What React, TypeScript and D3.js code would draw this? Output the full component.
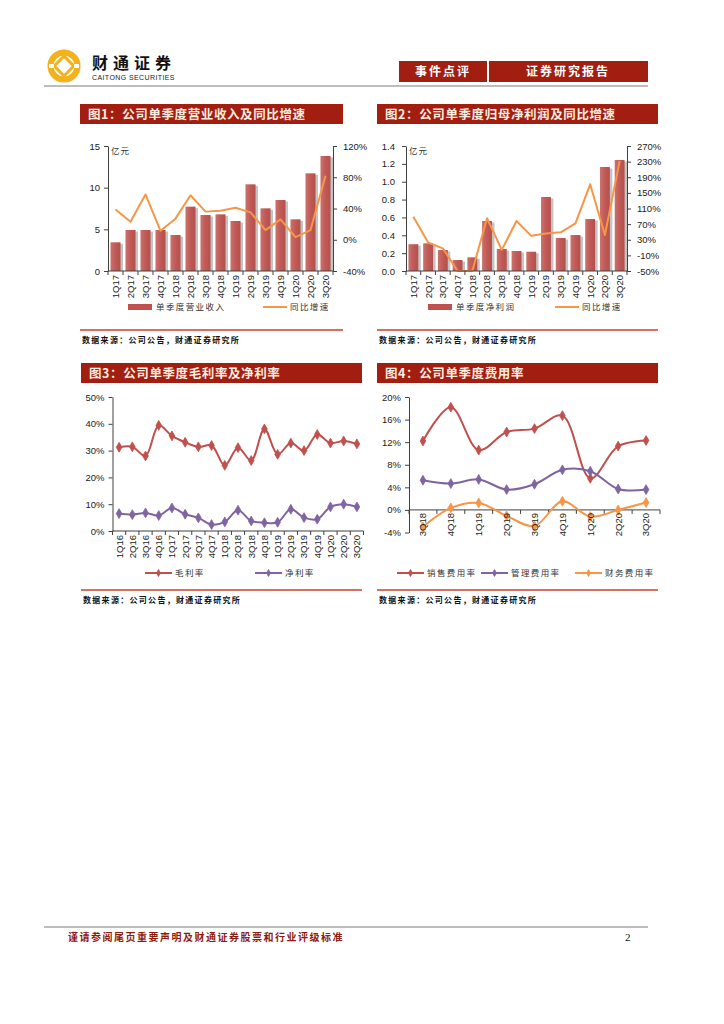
import * as d3 from "d3";
import * as React from "react";

// ---- data ----
const c1Quarters = ["1Q17", "2Q17", "3Q17", "4Q17", "1Q18", "2Q18", "3Q18", "4Q18", "1Q19", "2Q19", "3Q19", "4Q19", "1Q20", "2Q20", "3Q20"];
const c1Revenue = [3.44, 4.92, 4.92, 4.92, 4.32, 7.72, 6.72, 6.8, 6.0, 10.4, 7.52, 8.52, 6.2, 11.72, 13.8];
const c1Growth = [38.8, 23, 58, 11.5, 27, 57, 36, 37, 41, 35, 12.4, 26, 3.4, 12.4, 82];
const c1LeftTicks = [0, 5, 10, 15];
const c1RightTicks = [-40, 0, 40, 80, 120];

const c2Quarters = c1Quarters;
const c2Profit = [0.3, 0.31, 0.235, 0.123, 0.153, 0.56, 0.246, 0.224, 0.216, 0.829, 0.37, 0.403, 0.582, 1.165, 1.243];
const c2Growth = [89, 23, 8, -50, -50, 85, 4, 78, 40, 46, 49, 72, 172, 42, 232];
const c2LeftTicks = [0, 0.2, 0.4, 0.6, 0.8, 1.0, 1.2, 1.4];
const c2RightTicks = [-50, -10, 30, 70, 110, 150, 190, 230, 270];

const c3Quarters = ["1Q16", "2Q16", "3Q16", "4Q16", "1Q17", "2Q17", "3Q17", "4Q17", "1Q18", "2Q18", "3Q18", "4Q18", "1Q19", "2Q19", "3Q19", "4Q19", "1Q20", "2Q20", "3Q20"];
const c3Gross = [31.25, 31.4, 28, 39.4, 35.5, 33.1, 31.4, 31.9, 24.5, 31.1, 26.3, 38.1, 28.6, 32.8, 30, 36, 32.8, 33.6, 32.5];
const c3Net = [6.5, 6.1, 6.75, 5.75, 8.6, 6.25, 4.9, 2.4, 3.4, 7.75, 3.75, 3.1, 3.25, 8.1, 5, 4.4, 9, 10, 9];
const c3Ticks = [0, 10, 20, 30, 40, 50];

const c4Quarters = ["3Q18", "4Q18", "1Q19", "2Q19", "3Q19", "4Q19", "1Q20", "2Q20", "3Q20"];
const c4Sales = [12.2, 18.2, 10.6, 13.8, 14.4, 16.7, 5.6, 11.3, 12.3];
const c4Admin = [5.26, 4.67, 5.4, 3.6, 4.55, 7.1, 6.86, 3.7, 3.6];
const c4Finance = [-3.0, 0.35, 1.24, -1.06, -2.84, 1.54, -1.18, 0, 1.3];
const c4Ticks = [-4, 0, 4, 8, 12, 16, 20];

// ---- styles ----
const DARKRED = "#a21e10";
const BAR = "#c0504d";
const ORANGE = "#f79646";
const RED = "#c0504d";
const PURPLE = "#8064a2";
const AXIS = "#404040";
const NUM = "'Liberation Sans', Arial, sans-serif";
const CJK = "'Noto Sans CJK SC', sans-serif";

function styleAxis(g: any) {
  if (!g) return;
  const s = d3.select(g);
  s.attr("font-family", null).attr("font-size", null);
  s.select(".domain").attr("stroke", AXIS);
  s.selectAll(".tick line").attr("stroke", AXIS);
  s.selectAll(".tick text").attr("font-family", NUM).attr("font-size", 9.5).attr("fill", "#222");
}

function YAxis({ scale, ticks, x, side, fmt, pad }: any) {
  const axis = (side === "left" ? d3.axisLeft(scale) : d3.axisRight(scale))
    .tickValues(ticks).tickSize(4).tickSizeOuter(0).tickPadding(pad).tickFormat(fmt);
  return <g transform={`translate(${x},0)`} ref={(g) => { if (g) { d3.select(g).call(axis as any); styleAxis(g); } }} />;
}

function Title({ x, y, w, text }: any) {
  return (
    <g>
      <rect x={x} y={y} width={w} height={20} fill={DARKRED} />
      <text x={x + 8} y={y + 15} fill="#fbeee0" fontFamily={CJK} fontWeight="bold" fontSize={12.5} letterSpacing={0.6}>{text}</text>
    </g>
  );
}

function Source({ x, y, w }: any) {
  return (
    <g>
      <line x1={x} x2={x + w} y1={y} y2={y} stroke="#c8402f" strokeWidth={1.5} />
      <text x={x + 2} y={y + 13} fontFamily={CJK} fontWeight="bold" fontSize={8} letterSpacing={1.3} fill="#111">数据来源：公司公告，财通证券研究所</text>
    </g>
  );
}

function XLabels({ cats, centers, y }: any) {
  return (
    <g>
      {cats.map((c: string, i: number) => (
        <text key={c} transform={`translate(${centers[i] + 3.4},${y}) rotate(-90)`} textAnchor="end" fontFamily={NUM} fontSize={9.5} fill="#222">{c}</text>
      ))}
    </g>
  );
}

function BandTicks({ start, step, n, y }: any) {
  return (
    <g>
      {d3.range(n + 1).map((i) => (
        <line key={i} x1={start + i * step} x2={start + i * step} y1={y} y2={y + 4} stroke={AXIS} />
      ))}
    </g>
  );
}

function LegendText({ x, y, text }: any) {
  return <text x={x} y={y} fontFamily={CJK} fontSize={8.5} letterSpacing={1.4} fill="#333">{text}</text>;
}

function BarLineChart({ cats, bars, growth, x0, x1, yTop, yBot, leftDomain, leftTicks, leftFmt, rightDomain, rightTicks, legend, leftPad }: any) {
  const x = d3.scaleBand().domain(cats).range([x0, x1]).paddingInner(0.33).paddingOuter(0.165);
  const yL = d3.scaleLinear().domain(leftDomain).range([yBot, yTop]);
  const yR = d3.scaleLinear().domain(rightDomain).range([yBot, yTop]);
  const step = (x1 - x0) / cats.length;
  const centers = cats.map((c: string) => (x(c) as number) + x.bandwidth() / 2);
  const line = d3.line<number>().x((_, i) => centers[i]).y((d) => yR(d));
  return (
    <g>
      {bars.map((v: number, i: number) => (
        <rect key={"s" + i} x={(x(cats[i]) as number) + 2.5} y={yL(v) + 1.5} width={x.bandwidth()} height={yBot - yL(v) - 1.5} fill="#c4c4c4" />
      ))}
      {bars.map((v: number, i: number) => (
        <rect key={"b" + i} x={x(cats[i])} y={yL(v)} width={x.bandwidth()} height={yBot - yL(v)} fill="url(#barGrad)" />
      ))}
      <path d={line(growth) as string} fill="none" stroke={ORANGE} strokeWidth={2} strokeLinejoin="round" />
      <line x1={x0} x2={x1} y1={yBot} y2={yBot} stroke={AXIS} />
      <BandTicks start={x0} step={step} n={cats.length} y={yBot} />
      <YAxis scale={yL} ticks={leftTicks} x={x0} side="left" fmt={leftFmt} pad={leftPad} />
      <YAxis scale={yR} ticks={rightTicks} x={x1} side="right" fmt={(d: number) => d + "%"} pad={6} />
      <XLabels cats={cats} centers={centers} y={yBot + 4} />
      <text x={x0 + 3} y={yTop + 8} fontFamily={CJK} fontSize={8.5} fill="#333" letterSpacing={1}>亿元</text>
      <rect x={legend.barX} y={304} width={24} height={6} fill={BAR} />
      <LegendText x={legend.barX + 28} y={310} text={legend.barText} />
      <line x1={legend.lineX} x2={legend.lineX + 24} y1={307} y2={307} stroke={ORANGE} strokeWidth={2} />
      <LegendText x={legend.lineX + 27} y={310} text="同比增速" />
    </g>
  );
}

function Marker({ x, y, color, size = 28 }: any) {
  const sym = d3.symbol().type(d3.symbolDiamond).size(size);
  return <path d={sym() as string} transform={`translate(${x},${y})`} fill={color} stroke={color} strokeWidth={0.8} />;
}

function LineChart({ cats, series, x0, x1, yTop, yBot, domain, ticks, axisAt, labelY, legendY, legend }: any) {
  const x = d3.scalePoint().domain(cats).range([x0, x1]).padding(0.5);
  const y = d3.scaleLinear().domain(domain).range([yBot, yTop]);
  const step = x.step();
  const line = d3.line<number>().x((_, i) => x(cats[i]) as number).y((d) => y(d)).curve(d3.curveCatmullRom.alpha(0.5));
  const centers = cats.map((c: string) => x(c) as number);
  return (
    <g>
      <line x1={x0} x2={x1} y1={y(axisAt)} y2={y(axisAt)} stroke={AXIS} />
      <BandTicks start={x0} step={step} n={cats.length} y={y(axisAt)} />
      <YAxis scale={y} ticks={ticks} x={x0} side="left" fmt={(d: number) => d + "%"} pad={4} />
      {series.map((s: any) => (
        <g key={s.name}>
          <path d={line(s.values) as string} fill="none" stroke={s.color} strokeWidth={2} />
          {s.values.map((v: number, i: number) => <Marker key={i} x={centers[i]} y={y(v)} color={s.color} />)}
        </g>
      ))}
      <XLabels cats={cats} centers={centers} y={labelY} />
      {series.map((s: any, i: number) => (
        <g key={"lg" + s.name}>
          <line x1={legend[i]} x2={legend[i] + 27} y1={legendY} y2={legendY} stroke={s.color} strokeWidth={2} />
          <Marker x={legend[i] + 13.5} y={legendY} color={s.color} size={14} />
          <LegendText x={legend[i] + 30} y={legendY + 3} text={s.name} />
        </g>
      ))}
    </g>
  );
}

function Logo() {
  return (
    <g transform="translate(64,66)">
      <circle r={13.5} fill="none" stroke="#f3b11c" strokeWidth={6} />
      <rect x={-7} y={-7} width={14} height={14} transform="rotate(45)" fill="#fff" stroke="#f3b11c" strokeWidth={3} />
      <rect x={-15} y={-2} width={5} height={4} fill="#fff" />
      <rect x={10} y={-2} width={5} height={4} fill="#fff" />
    </g>
  );
}

export default function App() {
  return (
    <div style={{ position: "absolute", left: 0, top: 0 }}>
      <svg width={724} height={1024} style={{ display: "block", background: "#fff" }}>
        <defs>
          <linearGradient id="barGrad" x1="0" x2="1" y1="0" y2="0">
            <stop offset="0" stopColor="#cc716d" />
            <stop offset="0.5" stopColor="#c05a56" />
            <stop offset="1" stopColor="#b54f4b" />
          </linearGradient>
        </defs>

        {/* header */}
        <Logo />
        <text x={92} y={69} fontFamily={CJK} fontWeight="bold" fontSize={16} letterSpacing={5} fill="#111">财通证券</text>
        <text x={92} y={80} fontFamily={NUM} fontSize={7} letterSpacing={0.4} fill="#222">CAITONG SECURITIES</text>
        <rect x={399} y={61} width={88} height={21} fill={DARKRED} />
        <text x={443} y={76} textAnchor="middle" fontFamily={CJK} fontWeight="bold" fontSize={12} letterSpacing={2} fill="#fff">事件点评</text>
        <rect x={489} y={61} width={159} height={21} fill={DARKRED} />
        <text x={568} y={76} textAnchor="middle" fontFamily={CJK} fontWeight="bold" fontSize={12} letterSpacing={2} fill="#fff">证券研究报告</text>
        <line x1={44} x2={648} y1={86} y2={86} stroke="#bdbdbd" strokeWidth={2} />

        {/* figure 1 */}
        <Title x={80} y={104} w={263} text="图1：公司单季度营业收入及同比增速" />
        <BarLineChart cats={c1Quarters} bars={c1Revenue} growth={c1Growth} x0={108} x1={333} yTop={146} yBot={271}
          leftDomain={[0, 15]} leftTicks={c1LeftTicks} leftFmt={d3.format("d")} leftPad={4}
          rightDomain={[-40, 120]} rightTicks={c1RightTicks}
          legend={{ barX: 128, barText: "单季度营业收入", lineX: 263 }} />
        <Source x={80} y={330} w={263} />

        {/* figure 2 */}
        <Title x={377} y={104} w={281} text="图2：公司单季度归母净利润及同比增速" />
        <BarLineChart cats={c2Quarters} bars={c2Profit} growth={c2Growth} x0={406} x1={627} yTop={146} yBot={271}
          leftDomain={[0, 1.4]} leftTicks={c2LeftTicks} leftFmt={d3.format(".1f")} leftPad={7}
          rightDomain={[-50, 270]} rightTicks={c2RightTicks}
          legend={{ barX: 428, barText: "单季度净利润", lineX: 555 }} />
        <Source x={377} y={330} w={281} />

        {/* figure 3 */}
        <Title x={81} y={363} w={281} text="图3：公司单季度毛利率及净利率" />
        <LineChart cats={c3Quarters} x0={112.5} x1={363.5} yTop={397} yBot={531} domain={[0, 50]} ticks={c3Ticks} axisAt={0}
          labelY={535} legendY={573} legend={[145, 255]}
          series={[{ name: "毛利率", values: c3Gross, color: RED }, { name: "净利率", values: c3Net, color: PURPLE }]} />
        <Source x={81} y={590} w={281} />

        {/* figure 4 */}
        <Title x={377} y={363} w={281} text="图4：公司单季度费用率" />
        <LineChart cats={c4Quarters} x0={409} x1={660} yTop={397} yBot={532.5} domain={[-4, 20]} ticks={c4Ticks} axisAt={0}
          labelY={513} legendY={573} legend={[397, 481, 575]}
          series={[{ name: "销售费用率", values: c4Sales, color: RED }, { name: "管理费用率", values: c4Admin, color: PURPLE }, { name: "财务费用率", values: c4Finance, color: ORANGE }]} />
        <Source x={377} y={590} w={281} />

        {/* footer */}
        <line x1={44} x2={648} y1={927} y2={927} stroke="#bdbdbd" strokeWidth={2} />
        <text x={68} y={941} fontFamily={CJK} fontWeight="bold" fontSize={10} letterSpacing={1.5} fill="#8e1b10">谨请参阅尾页重要声明及财通证券股票和行业评级标准</text>
        <text x={625} y={941} fontFamily="'Liberation Serif', serif" fontSize={11} fill="#111">2</text>
      </svg>
    </div>
  );
}
